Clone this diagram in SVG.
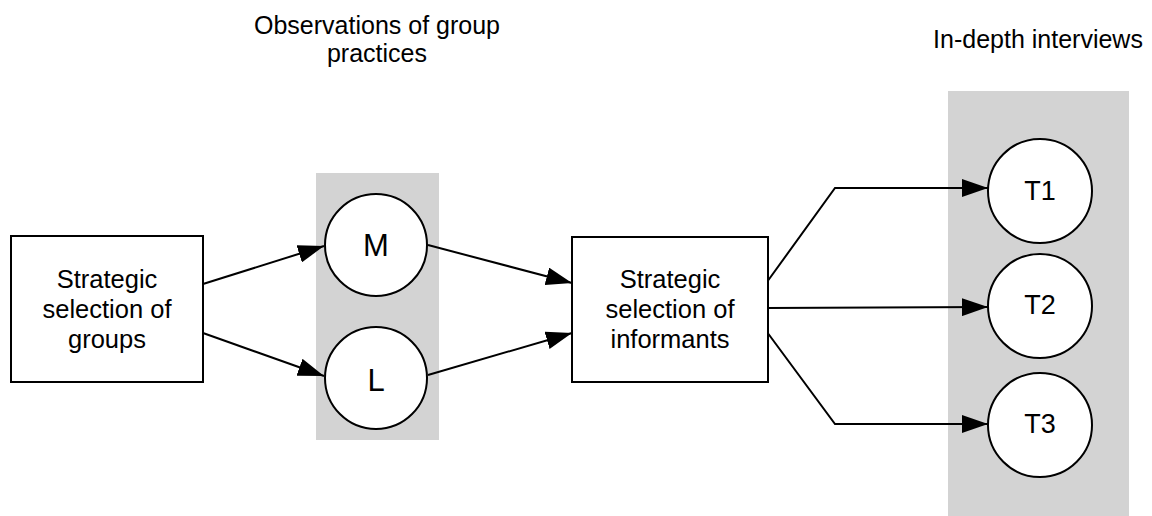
<svg xmlns="http://www.w3.org/2000/svg" width="1152" height="516" viewBox="0 0 1152 516">
<style>
text{font-family:"Liberation Sans",Arial,sans-serif;fill:#000;text-anchor:middle}
.lbl{font-size:25.5px}
.ttl{font-size:25px}
.big{font-size:31px}
.t{font-size:27px}
.box{fill:#fff;stroke:#000;stroke-width:2}
.panel{fill:#d3d3d3;stroke:none}
.edge{fill:none;stroke:#000;stroke-width:2}
</style>
<defs>
<marker id="ah" markerUnits="userSpaceOnUse" markerWidth="26" markerHeight="18" refX="26" refY="9" orient="auto">
<path d="M0,0 L26,9 L0,18 z" fill="#000"/>
</marker>
</defs>
<rect width="1152" height="516" fill="#fff"/>
<g id="panel-observations">
<rect class="panel" x="316" y="173" width="123" height="267"/>
<text class="ttl" x="377" y="34">Observations of group</text>
<text class="ttl" x="377" y="62">practices</text>
</g>
<g id="panel-interviews">
<rect class="panel" x="948" y="91" width="181" height="425"/>
<text class="ttl" x="1038" y="48">In-depth interviews</text>
</g>
<g id="connectors">
<line class="edge" x1="203" y1="284" x2="324" y2="246" marker-end="url(#ah)"/>
<line class="edge" x1="203" y1="333" x2="324" y2="376" marker-end="url(#ah)"/>
<line class="edge" x1="428" y1="245" x2="572" y2="283" marker-end="url(#ah)"/>
<line class="edge" x1="428" y1="375" x2="572" y2="333" marker-end="url(#ah)"/>
<polyline class="edge" points="767,282 835,188 988,188" marker-end="url(#ah)"/>
<line class="edge" x1="767" y1="308" x2="988" y2="307" marker-end="url(#ah)"/>
<polyline class="edge" points="767,332 835,424 988,424" marker-end="url(#ah)"/>
</g>
<g id="groups-box">
<rect class="box" x="11" y="236" width="192" height="146"/>
<text class="lbl" x="107" y="288">Strategic</text>
<text class="lbl" x="107" y="318">selection of</text>
<text class="lbl" x="107" y="348">groups</text>
</g>
<g id="node-M">
<circle class="box" cx="376" cy="245" r="51"/>
<text class="big" x="376" y="256">M</text>
</g>
<g id="node-L">
<circle class="box" cx="376" cy="378" r="51"/>
<text class="big" x="376" y="391">L</text>
</g>
<g id="informants-box">
<rect class="box" x="572" y="237" width="196" height="145"/>
<text class="lbl" x="670" y="288">Strategic</text>
<text class="lbl" x="670" y="318">selection of</text>
<text class="lbl" x="670" y="348">informants</text>
</g>
<g id="node-T1">
<circle class="box" cx="1040" cy="191" r="52"/>
<text class="t" x="1040" y="200">T1</text>
</g>
<g id="node-T2">
<circle class="box" cx="1040" cy="306" r="52"/>
<text class="t" x="1040" y="314">T2</text>
</g>
<g id="node-T3">
<circle class="box" cx="1040" cy="425" r="52"/>
<text class="t" x="1040" y="433">T3</text>
</g>
</svg>
